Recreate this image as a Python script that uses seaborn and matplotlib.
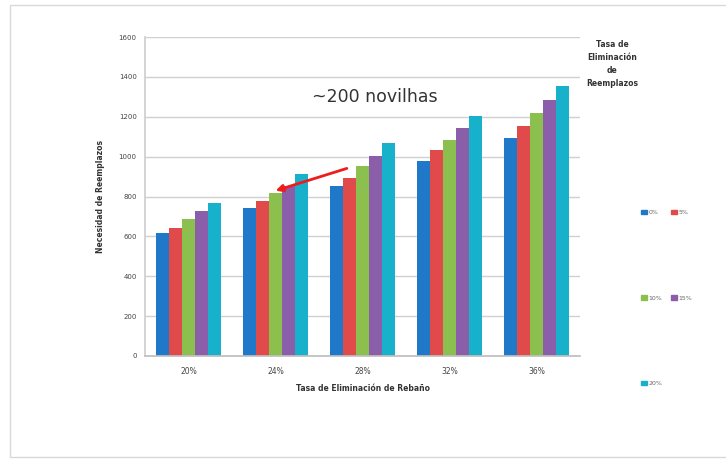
import matplotlib
matplotlib.use("Agg")
import matplotlib.pyplot as plt
import matplotlib.patches as mpatches
import seaborn as sns
import pandas as pd

# Herd elimination rate (x axis categories)
categorias = ["20%", "24%", "28%", "32%", "36%"]
# Replacement elimination rate (series)
series = ["0%", "5%", "10%", "15%", "20%"]
# Replacement need for each series, per category
v_0 = [617, 742, 852, 978, 1093]
v_5 = [642, 777, 893, 1033, 1153]
v_10 = [687, 817, 953, 1083, 1219]
v_15 = [727, 852, 1003, 1143, 1284]
v_20 = [767, 913, 1068, 1204, 1354]
y_ticks = [0, 200, 400, 600, 800, 1000, 1200, 1400, 1600]

cores = ["#1f78c8", "#e04a4a", "#8cc04e", "#8a5ea8", "#17b1cc"]

rows = []
for s, vals in zip(series, [v_0, v_5, v_10, v_15, v_20]):
    for c, v in zip(categorias, vals):
        rows.append({"cat": c, "serie": s, "valor": v})
df = pd.DataFrame(rows)

sns.set_theme(style="white")
plt.rcParams["font.family"] = ["DejaVu Sans"]

fig = plt.figure(figsize=(7.26, 4.59), dpi=100)
ax = fig.add_axes([145 / 726, 1 - 356 / 459, 435 / 726, 319 / 459])

sns.barplot(data=df, x="cat", y="valor", hue="serie", palette=cores,
            order=categorias, hue_order=series, width=0.75,
            saturation=1, ax=ax, legend=False, linewidth=0)

ax.set_ylim(0, 1600)
ax.set_yticks(y_ticks)
ax.set_yticklabels([str(t) for t in y_ticks], fontsize=5, color="#444444")
ax.tick_params(axis="x", labelsize=5.5, colors="#444444", length=0, pad=8)
ax.tick_params(axis="y", length=0, pad=6)
ax.yaxis.grid(True, color="#d0d0d0", linewidth=1)
ax.set_axisbelow(True)
for side in ["top", "right"]:
    ax.spines[side].set_visible(False)
ax.spines["left"].set_color("#cfcfcf")
ax.spines["bottom"].set_color("#bfbfbf")
ax.set_xlabel("Tasa de Eliminación de Rebaño", fontsize=5.5, fontweight="bold",
              color="#333333", labelpad=6)
ax.set_ylabel("Necesidad de Reemplazos", fontsize=5.5, fontweight="bold",
              color="#333333", labelpad=10)

# Annotation over the second and third groups
ax.annotate("", xy=(0.97, 825), xytext=(1.85, 945),
            arrowprops=dict(arrowstyle="-|>", color="#ee1c1c", lw=2,
                            mutation_scale=10))
fig.text(375 / 726, 1 - 97 / 459, "~200 novilhas", fontsize=12.5,
         ha="center", va="center", color="#333333")

# Legend title and entries
fig.text(612 / 726, 1 - 64 / 459, "Tasa de\nEliminación\nde\nReemplazos",
         fontsize=5.5, fontweight="bold", ha="center", va="center",
         color="#333333", linespacing=1.6)
handles = [mpatches.Patch(color=c, label=s) for c, s in zip(cores, series)]
order = [0, 2, 4, 1, 3]
leg = fig.legend([handles[i] for i in order], [series[i] for i in order],
                 ncol=2, loc="upper left", bbox_to_anchor=(641 / 726, 1 - 210 / 459),
                 frameon=False, fontsize=4.5, labelspacing=12.8,
                 handlelength=0.9, handleheight=0.7, handletextpad=0.3,
                 columnspacing=1.4, borderaxespad=0, borderpad=0)
for t in leg.get_texts():
    t.set_color("#666666")

# Outer chart frame
fig.patches.append(mpatches.Rectangle((10 / 726, 2 / 459), 720 / 726, 452 / 459,
                                      transform=fig.transFigure, fill=False,
                                      edgecolor="#d9d9d9", linewidth=1))

fig.savefig("out.png", dpi=100)
